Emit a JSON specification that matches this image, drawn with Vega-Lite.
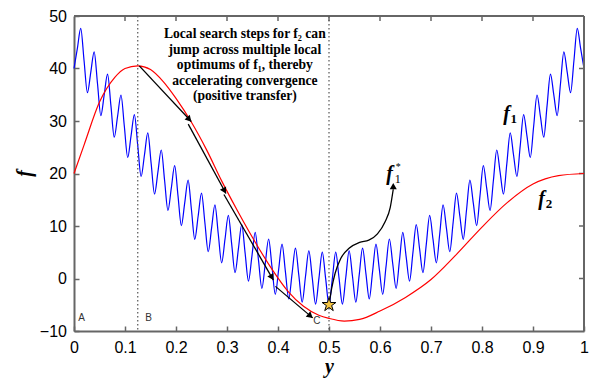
{
"$schema": "https://vega.github.io/schema/vega-lite/v6.json",
"width": 510, "height": 315,
"autosize": "none",
"padding": {"left": 74, "top": 16, "right": 7, "bottom": 49},
"config": {"view": {"stroke": null}, "font": "Liberation Sans"},
"datasets": {
"vlines": [{"x":0.125},{"x":0.5}],
"rframe": [{"x":1}],
"tframe": [{"f":50}],
"xticks": [{"x":0.1,"f":50,"fe":49.05},{"x":0.2,"f":50,"fe":49.05},{"x":0.3,"f":50,"fe":49.05},{"x":0.4,"f":50,"fe":49.05},{"x":0.5,"f":50,"fe":49.05},{"x":0.6,"f":50,"fe":49.05},{"x":0.7,"f":50,"fe":49.05},{"x":0.8,"f":50,"fe":49.05},{"x":0.9,"f":50,"fe":49.05}],
"yticks": [{"x":1,"xe":0.9902,"f":0},{"x":1,"xe":0.9902,"f":10},{"x":1,"xe":0.9902,"f":20},{"x":1,"xe":0.9902,"f":30},{"x":1,"xe":0.9902,"f":40}],
"f1": [
{"x":0,"f":40},{"x":0.0066,"f":43.82},{"x":0.0132,"f":47.66},{"x":0.0197,"f":41.52},{"x":0.0263,"f":35.39},{"x":0.0329,"f":39.27},{"x":0.0395,"f":43.18},{"x":0.0461,"f":37.09},{"x":0.0526,"f":31.02},{"x":0.0592,"f":34.97},
{"x":0.0658,"f":38.94},{"x":0.0724,"f":32.92},{"x":0.0789,"f":26.91},{"x":0.0855,"f":30.92},{"x":0.0921,"f":34.95},{"x":0.0987,"f":28.99},{"x":0.1053,"f":23.05},{"x":0.1118,"f":27.12},{"x":0.1184,"f":31.21},{"x":0.125,"f":25.31},
{"x":0.1316,"f":19.43},{"x":0.1382,"f":23.57},{"x":0.1447,"f":27.72},{"x":0.1513,"f":21.88},{"x":0.1579,"f":16.07},{"x":0.1645,"f":20.26},{"x":0.1711,"f":24.48},{"x":0.1776,"f":18.71},{"x":0.1842,"f":12.95},{"x":0.1908,"f":17.21},
{"x":0.1974,"f":21.49},{"x":0.2039,"f":15.78},{"x":0.2105,"f":10.08},{"x":0.2171,"f":14.41},{"x":0.2237,"f":18.74},{"x":0.2303,"f":13.1},{"x":0.2368,"f":7.47},{"x":0.2434,"f":11.85},{"x":0.25,"f":16.25},{"x":0.2566,"f":10.67},
{"x":0.2632,"f":5.1},{"x":0.2697,"f":9.54},{"x":0.2763,"f":14.01},{"x":0.2829,"f":8.48},{"x":0.2895,"f":2.98},{"x":0.2961,"f":7.49},{"x":0.3026,"f":12.01},{"x":0.3092,"f":6.55},{"x":0.3158,"f":1.11},{"x":0.3224,"f":5.68},
{"x":0.3289,"f":10.27},{"x":0.3355,"f":4.87},{"x":0.3421,"f":-0.51},{"x":0.3487,"f":4.12},{"x":0.3553,"f":8.77},{"x":0.3618,"f":3.44},{"x":0.3684,"f":-1.88},{"x":0.375,"f":2.81},{"x":0.3816,"f":7.52},{"x":0.3882,"f":2.25},
{"x":0.3947,"f":-3.01},{"x":0.4013,"f":1.75},{"x":0.4079,"f":6.53},{"x":0.4145,"f":1.32},{"x":0.4211,"f":-3.88},{"x":0.4276,"f":0.94},{"x":0.4342,"f":5.78},{"x":0.4408,"f":0.63},{"x":0.4474,"f":-4.5},{"x":0.4539,"f":0.38},
{"x":0.4605,"f":5.28},{"x":0.4671,"f":0.19},{"x":0.4737,"f":-4.88},{"x":0.4803,"f":0.07},{"x":0.4868,"f":5.03},{"x":0.4934,"f":0.01},{"x":0.5,"f":-5},{"x":0.5066,"f":0.01},{"x":0.5132,"f":5.03},{"x":0.5197,"f":0.07},
{"x":0.5263,"f":-4.88},{"x":0.5329,"f":0.19},{"x":0.5395,"f":5.28},{"x":0.5461,"f":0.38},{"x":0.5526,"f":-4.5},{"x":0.5592,"f":0.63},{"x":0.5658,"f":5.78},{"x":0.5724,"f":0.94},{"x":0.5789,"f":-3.88},{"x":0.5855,"f":1.32},
{"x":0.5921,"f":6.53},{"x":0.5987,"f":1.75},{"x":0.6053,"f":-3.01},{"x":0.6118,"f":2.25},{"x":0.6184,"f":7.52},{"x":0.625,"f":2.81},{"x":0.6316,"f":-1.88},{"x":0.6382,"f":3.44},{"x":0.6447,"f":8.77},{"x":0.6513,"f":4.12},
{"x":0.6579,"f":-0.51},{"x":0.6645,"f":4.87},{"x":0.6711,"f":10.27},{"x":0.6776,"f":5.68},{"x":0.6842,"f":1.11},{"x":0.6908,"f":6.55},{"x":0.6974,"f":12.01},{"x":0.7039,"f":7.49},{"x":0.7105,"f":2.98},{"x":0.7171,"f":8.48},
{"x":0.7237,"f":14.01},{"x":0.7303,"f":9.54},{"x":0.7368,"f":5.1},{"x":0.7434,"f":10.67},{"x":0.75,"f":16.25},{"x":0.7566,"f":11.85},{"x":0.7632,"f":7.47},{"x":0.7697,"f":13.1},{"x":0.7763,"f":18.74},{"x":0.7829,"f":14.41},
{"x":0.7895,"f":10.08},{"x":0.7961,"f":15.78},{"x":0.8026,"f":21.49},{"x":0.8092,"f":17.21},{"x":0.8158,"f":12.95},{"x":0.8224,"f":18.71},{"x":0.8289,"f":24.48},{"x":0.8355,"f":20.26},{"x":0.8421,"f":16.07},{"x":0.8487,"f":21.88},
{"x":0.8553,"f":27.72},{"x":0.8618,"f":23.57},{"x":0.8684,"f":19.43},{"x":0.875,"f":25.31},{"x":0.8816,"f":31.21},{"x":0.8882,"f":27.12},{"x":0.8947,"f":23.05},{"x":0.9013,"f":28.99},{"x":0.9079,"f":34.95},{"x":0.9145,"f":30.92},
{"x":0.9211,"f":26.91},{"x":0.9276,"f":32.92},{"x":0.9342,"f":38.94},{"x":0.9408,"f":34.97},{"x":0.9474,"f":31.02},{"x":0.9539,"f":37.09},{"x":0.9605,"f":43.18},{"x":0.9671,"f":39.27},{"x":0.9737,"f":35.39},{"x":0.9803,"f":41.52},
{"x":0.9868,"f":47.66},{"x":0.9934,"f":43.82},{"x":1,"f":40}
],
"f2": [
{"x":0,"f":20},{"x":0.02,"f":25.5},{"x":0.05,"f":33.6},{"x":0.08,"f":38.3},{"x":0.1,"f":40},{"x":0.125,"f":40.5},{"x":0.15,"f":39.8},{"x":0.175,"f":37.5},{"x":0.2,"f":34.3},{"x":0.23,"f":29.8},
{"x":0.26,"f":24.5},{"x":0.29,"f":18.5},{"x":0.32,"f":13.0},{"x":0.35,"f":7.8},{"x":0.39,"f":1.5},{"x":0.42,"f":-2.5},{"x":0.45,"f":-5.3},{"x":0.48,"f":-7.0},{"x":0.5,"f":-7.6},{"x":0.53,"f":-8.1},
{"x":0.56,"f":-7.8},{"x":0.6,"f":-6.2},{"x":0.65,"f":-3.6},{"x":0.7,"f":-0.2},{"x":0.75,"f":4.6},{"x":0.8,"f":9.8},{"x":0.85,"f":14.5},{"x":0.9,"f":18.0},{"x":0.95,"f":19.6},{"x":1,"f":20}
],
"segs": [
{"x":0.128,"f":40.5,"x2":0.230,"f2":29.9},
{"x":0.224,"f":29.4,"x2":0.298,"f2":16.2},
{"x":0.294,"f":16.0,"x2":0.391,"f2":-0.3},
{"x":0.395,"f":-1.5,"x2":0.468,"f2":-7.5}
],
"curve": [
{"x":0.5,"f":-5},{"x":0.505,"f":-2},{"x":0.512,"f":1},{"x":0.523,"f":3.8},{"x":0.54,"f":5.8},{"x":0.56,"f":6.9},{"x":0.578,"f":7.3},{"x":0.595,"f":8.5},{"x":0.61,"f":10.8},{"x":0.62,"f":13.5},{"x":0.626,"f":17}
]
},
"layer": [
{
"data": {"name": "f1"},
"mark": {"type": "line", "color": "#0000ff", "strokeWidth": 1.2, "interpolate": "monotone"},
"encoding": {
"x": {"field": "x", "type": "quantitative", "scale": {"domain": [0, 1], "nice": false, "zero": false},
"axis": {"orient": "bottom", "title": "y", "grid": false, "values": [0,0.1,0.2,0.3,0.4,0.5,0.6,0.7,0.8,0.9,1], "format": "~f", "tickSize": -5, "labelPadding": 13, "labelFontSize": 16, "labelFont": "Liberation Sans", "labelColor": "#000", "labelFlush": false, "labelOverlap": false, "domainColor": "#666", "domainWidth": 2, "tickColor": "#666", "tickWidth": 1.5, "titleFont": "Liberation Serif", "titleFontSize": 20, "titleFontStyle": "italic", "titleFontWeight": "bold", "titleColor": "#000", "titleX": 255, "titleY": 41, "titleBaseline": "alphabetic", "titleAlign": "center"}},
"y": {"field": "f", "type": "quantitative", "scale": {"domain": [-10, 50], "nice": false, "zero": false},
"axis": {"orient": "left", "title": "f", "grid": false, "values": [-10,0,10,20,30,40,50], "format": "d", "tickSize": -5, "labelPadding": 12.5, "labelFontSize": 16, "labelFont": "Liberation Sans", "labelColor": "#000", "labelOverlap": false, "domainColor": "#666", "domainWidth": 2, "tickColor": "#666", "tickWidth": 1.5, "titleFont": "Liberation Serif", "titleFontSize": 20, "titleFontStyle": "italic", "titleFontWeight": "bold", "titleColor": "#000", "titleX": -44, "titleY": 157, "titleAngle": -90, "titleBaseline": "alphabetic", "titleAlign": "center"}}
}
},
{
"data": {"name": "rframe"},
"mark": {"type": "rule", "color": "#666", "strokeWidth": 2},
"encoding": {"x": {"field": "x", "type": "quantitative"}}
},
{
"data": {"name": "tframe"},
"mark": {"type": "rule", "color": "#666", "strokeWidth": 2},
"encoding": {"y": {"field": "f", "type": "quantitative"}}
},
{
"data": {"name": "xticks"},
"mark": {"type": "rule", "color": "#666", "strokeWidth": 1.5},
"encoding": {"x": {"field": "x", "type": "quantitative"}, "y": {"field": "f", "type": "quantitative"}, "y2": {"field": "fe"}}
},
{
"data": {"name": "yticks"},
"mark": {"type": "rule", "color": "#666", "strokeWidth": 1.5},
"encoding": {"x": {"field": "x", "type": "quantitative"}, "x2": {"field": "xe"}, "y": {"field": "f", "type": "quantitative"}}
},
{
"data": {"name": "vlines"},
"mark": {"type": "rule", "color": "#555", "strokeWidth": 1.2, "strokeDash": [1.5, 2.5]},
"encoding": {"x": {"field": "x", "type": "quantitative"}}
},
{
"data": {"name": "f2"},
"mark": {"type": "line", "color": "#ff0000", "strokeWidth": 1.2, "interpolate": "monotone"},
"encoding": {"x": {"field": "x", "type": "quantitative"}, "y": {"field": "f", "type": "quantitative"}}
},
{
"data": {"name": "segs"},
"mark": {"type": "rule", "color": "#000", "strokeWidth": 1.3},
"encoding": {"x": {"field": "x", "type": "quantitative"}, "y": {"field": "f", "type": "quantitative"}, "x2": {"field": "x2"}, "y2": {"field": "f2"}}
},
{
"data": {"values": [{"x": 0.226, "f": 30.3}]},
"mark": {"type": "point", "shape": "triangle-up", "filled": true, "color": "#000", "opacity": 1, "size": 50, "angle": 137},
"encoding": {"x": {"field": "x", "type": "quantitative"}, "y": {"field": "f", "type": "quantitative"}}
},
{
"data": {"values": [{"x": 0.295, "f": 16.7}]},
"mark": {"type": "point", "shape": "triangle-up", "filled": true, "color": "#000", "opacity": 1, "size": 50, "angle": 151.5},
"encoding": {"x": {"field": "x", "type": "quantitative"}, "y": {"field": "f", "type": "quantitative"}}
},
{
"data": {"values": [{"x": 0.388, "f": 0.2}]},
"mark": {"type": "point", "shape": "triangle-up", "filled": true, "color": "#000", "opacity": 1, "size": 50, "angle": 150},
"encoding": {"x": {"field": "x", "type": "quantitative"}, "y": {"field": "f", "type": "quantitative"}}
},
{
"data": {"values": [{"x": 0.4635, "f": -7.13}]},
"mark": {"type": "point", "shape": "triangle-up", "filled": true, "color": "#000", "opacity": 1, "size": 50, "angle": 130.3},
"encoding": {"x": {"field": "x", "type": "quantitative"}, "y": {"field": "f", "type": "quantitative"}}
},
{
"data": {"name": "curve"},
"mark": {"type": "line", "color": "#000", "strokeWidth": 1.3, "interpolate": "monotone"},
"encoding": {"x": {"field": "x", "type": "quantitative"}, "y": {"field": "f", "type": "quantitative"}}
},
{
"data": {"values": [{"x": 0.626, "f": 17.6}]},
"mark": {"type": "point", "shape": "triangle-up", "filled": true, "color": "#000", "opacity": 1, "size": 50, "angle": 0},
"encoding": {"x": {"field": "x", "type": "quantitative"}, "y": {"field": "f", "type": "quantitative"}}
},
{
"data": {"values": [{"x": 0.5, "f": -5}]},
"mark": {"type": "point", "shape": "M0,-1L0.2245,-0.309L0.951,-0.309L0.363,0.118L0.588,0.809L0,0.382L-0.588,0.809L-0.363,0.118L-0.951,-0.309L-0.2245,-0.309Z", "filled": true, "fill": "#f5c542", "stroke": "#000", "strokeWidth": 1, "opacity": 1, "size": 210},
"encoding": {"x": {"field": "x", "type": "quantitative"}, "y": {"field": "f", "type": "quantitative"}}
},
{
"data": {"values": [{"x": 0.335, "f": 47.9, "t": "Local search steps for f₂ can\njump across multiple local\noptimums of f₁, thereby\naccelerating convergence\n(positive transfer)"}]},
"mark": {"type": "text", "font": "Liberation Serif", "fontWeight": "bold", "fontSize": 13.6, "lineHeight": 15.5, "lineBreak": "\n", "align": "center", "baseline": "top", "color": "#000"},
"encoding": {"x": {"field": "x", "type": "quantitative"}, "y": {"field": "f", "type": "quantitative"}, "text": {"field": "t"}}
},
{
"data": {"values": [{"x": 0.848, "f": 31.4, "t": "f"}, {"x": 0.917, "f": 15.2, "t": "f"}, {"x": 0.619, "f": 20.0, "t": "f"}]},
"mark": {"type": "text", "font": "Liberation Serif", "fontWeight": "bold", "fontStyle": "italic", "fontSize": 20, "align": "center", "baseline": "middle", "color": "#000"},
"encoding": {"x": {"field": "x", "type": "quantitative"}, "y": {"field": "f", "type": "quantitative"}, "text": {"field": "t"}}
},
{
"data": {"values": [{"x": 0.848, "f": 31.4, "t": "1"}, {"x": 0.917, "f": 15.2, "t": "2"}]},
"mark": {"type": "text", "font": "Liberation Serif", "fontWeight": "bold", "fontSize": 13, "align": "left", "baseline": "middle", "dx": 4, "dy": 5, "color": "#000"},
"encoding": {"x": {"field": "x", "type": "quantitative"}, "y": {"field": "f", "type": "quantitative"}, "text": {"field": "t"}}
},
{
"data": {"values": [{"x": 0.619, "f": 20.0, "t": "1"}]},
"mark": {"type": "text", "font": "Liberation Serif", "fontSize": 12, "align": "left", "baseline": "middle", "dx": 5, "dy": 5, "color": "#000"},
"encoding": {"x": {"field": "x", "type": "quantitative"}, "y": {"field": "f", "type": "quantitative"}, "text": {"field": "t"}}
},
{
"data": {"values": [{"x": 0.619, "f": 20.0, "t": "*"}]},
"mark": {"type": "text", "font": "Liberation Serif", "fontSize": 10, "align": "left", "baseline": "middle", "dx": 6, "dy": -7, "color": "#000"},
"encoding": {"x": {"field": "x", "type": "quantitative"}, "y": {"field": "f", "type": "quantitative"}, "text": {"field": "t"}}
},
{
"data": {"values": [{"x": 0.015, "f": -7.6, "t": "A"}, {"x": 0.146, "f": -7.5, "t": "B"}, {"x": 0.476, "f": -8.0, "t": "C"}]},
"mark": {"type": "text", "font": "Liberation Sans", "fontSize": 10, "align": "center", "baseline": "middle", "color": "#333"},
"encoding": {"x": {"field": "x", "type": "quantitative"}, "y": {"field": "f", "type": "quantitative"}, "text": {"field": "t"}}
}
]
}
